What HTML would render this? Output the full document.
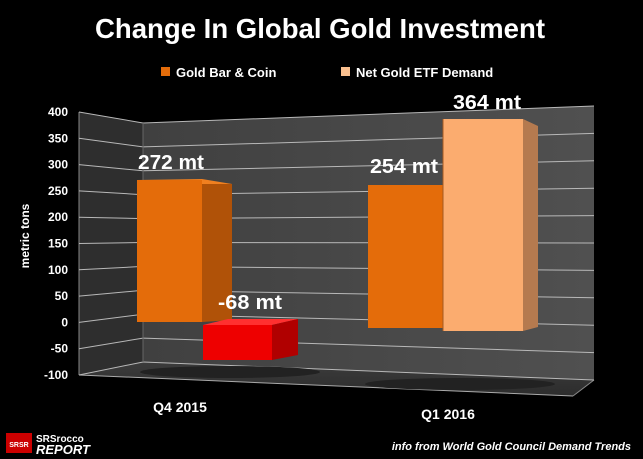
<!DOCTYPE html>
<html><head><meta charset="utf-8"><style>
html,body{margin:0;padding:0;background:#000;}
svg{display:block;font-family:"Liberation Sans",sans-serif;}
</style></head><body>
<svg id="s" width="643" height="459" viewBox="0 0 643 459" xmlns="http://www.w3.org/2000/svg">
<defs>
<linearGradient id="bw" x1="0" x2="1" y1="0" y2="0"><stop offset="0" stop-color="#404040"/><stop offset="1" stop-color="#505050"/></linearGradient>
<linearGradient id="fl" x1="0" x2="0" y1="0" y2="1"><stop offset="0" stop-color="#3c3c3c"/><stop offset="1" stop-color="#2c2c2c"/></linearGradient>
</defs>
<rect width="643" height="459" fill="#000"/>
<text x="320" y="38" fill="#fff" font-size="28" font-weight="bold" text-anchor="middle" textLength="450" lengthAdjust="spacingAndGlyphs">Change In Global Gold Investment</text>
<rect x="161" y="67" width="9" height="9" fill="#e36c0a"/>
<text x="176" y="77" fill="#fff" font-size="13" font-weight="bold">Gold Bar &amp; Coin</text>
<rect x="341" y="67" width="9" height="9" fill="#fac08f"/>
<text x="356" y="77" fill="#fff" font-size="13" font-weight="bold">Net Gold ETF Demand</text>
<polygon points="79,112 143,123 143,362 79,375" fill="#2e2e2e"/>
<polygon points="143,123 594,106 594,380 143,362" fill="url(#bw)"/>
<polygon points="79,375 143,362 594,380 573,396" fill="url(#fl)"/>
<line x1="79" y1="112" x2="79" y2="375" stroke="#888" stroke-width="1"/>
<line x1="79" y1="375" x2="573" y2="396" stroke="#aaa" stroke-width="1"/>
<line x1="573" y1="396" x2="594" y2="380" stroke="#888" stroke-width="1"/>
<g id="grid" stroke="#b8b8b8" stroke-width="1"></g>
<g font-size="12" font-weight="bold" fill="#fff" text-anchor="end" id="yl"></g>
<text transform="translate(29,236) rotate(-90)" fill="#fff" font-size="12" font-weight="bold" text-anchor="middle">metric tons</text>
<ellipse cx="230" cy="372" rx="90" ry="6" fill="#222"/>
<ellipse cx="460" cy="384" rx="95" ry="6" fill="#222"/>
<polygon points="202,181 232,184 232,320 202,322" fill="#b05208"/>
<polygon points="137,180 202,179 232,184 167,184" fill="#f08020"/>
<rect x="137" y="180" width="65" height="142" fill="#e46c0a"/>
<polygon points="203,325 228,319 298,319 272,325" fill="#ff3030"/>
<polygon points="272,325 298,319 298,355 272,360" fill="#b00000"/>
<rect x="203" y="325" width="69" height="35" fill="#ee0000"/>
<rect x="368" y="185" width="75" height="143" fill="#e46c0a"/>
<polygon points="523,119 538,126 538,327 523,331" fill="#b57a4f"/>
<rect x="443" y="119" width="80" height="212" fill="#fbac6f"/>
<line x1="443" y1="119" x2="443" y2="331" stroke="#a55a20" stroke-width="1"/>
<g fill="#fff" font-size="20" font-weight="bold" text-anchor="middle">
<text x="171" y="169" textLength="66" lengthAdjust="spacingAndGlyphs">272 mt</text>
<text x="250" y="309" textLength="64" lengthAdjust="spacingAndGlyphs">-68 mt</text>
<text x="404" y="173" textLength="68" lengthAdjust="spacingAndGlyphs">254 mt</text>
<text x="487" y="109" textLength="68" lengthAdjust="spacingAndGlyphs">364 mt</text>
</g>
<text x="180" y="412" fill="#fff" font-size="14" font-weight="bold" text-anchor="middle">Q4 2015</text>
<text x="448" y="419" fill="#fff" font-size="14" font-weight="bold" text-anchor="middle">Q1 2016</text>
<text x="631" y="450" fill="#fff" font-size="11" font-weight="bold" font-style="italic" text-anchor="end">info from World Gold Council Demand Trends</text>
<rect x="6" y="433" width="26" height="20" fill="#c00"/>
<text x="19" y="447" fill="#fff" font-size="7" font-weight="bold" text-anchor="middle">SRSR</text>
<text x="36" y="442" fill="#fff" font-size="10" font-weight="bold">SRSrocco</text>
<text x="36" y="454" fill="#fff" font-size="13" font-weight="bold" font-style="italic">REPORT</text>
</svg>
<script>
var g=document.getElementById('grid'),yl=document.getElementById('yl'),ns='http://www.w3.org/2000/svg';
for(var i=0;i<=10;i++){
 var yf=112+i*26.3,yb=123+i*23.9,yr=106+i*27.4;
 var l=document.createElementNS(ns,'line');l.setAttribute('x1',79);l.setAttribute('y1',yf);l.setAttribute('x2',143);l.setAttribute('y2',yb);g.appendChild(l);
 var m=document.createElementNS(ns,'line');m.setAttribute('x1',143);m.setAttribute('y1',yb);m.setAttribute('x2',594);m.setAttribute('y2',yr);g.appendChild(m);
 var t=document.createElementNS(ns,'text');t.setAttribute('x',68);t.setAttribute('y',yf+4);t.textContent=(400-i*50);yl.appendChild(t);
}
var v=document.createElementNS(ns,'line');v.setAttribute('x1',143);v.setAttribute('y1',123);v.setAttribute('x2',143);v.setAttribute('y2',362);v.setAttribute('stroke','#666');g.appendChild(v);
</script>
</body></html>
